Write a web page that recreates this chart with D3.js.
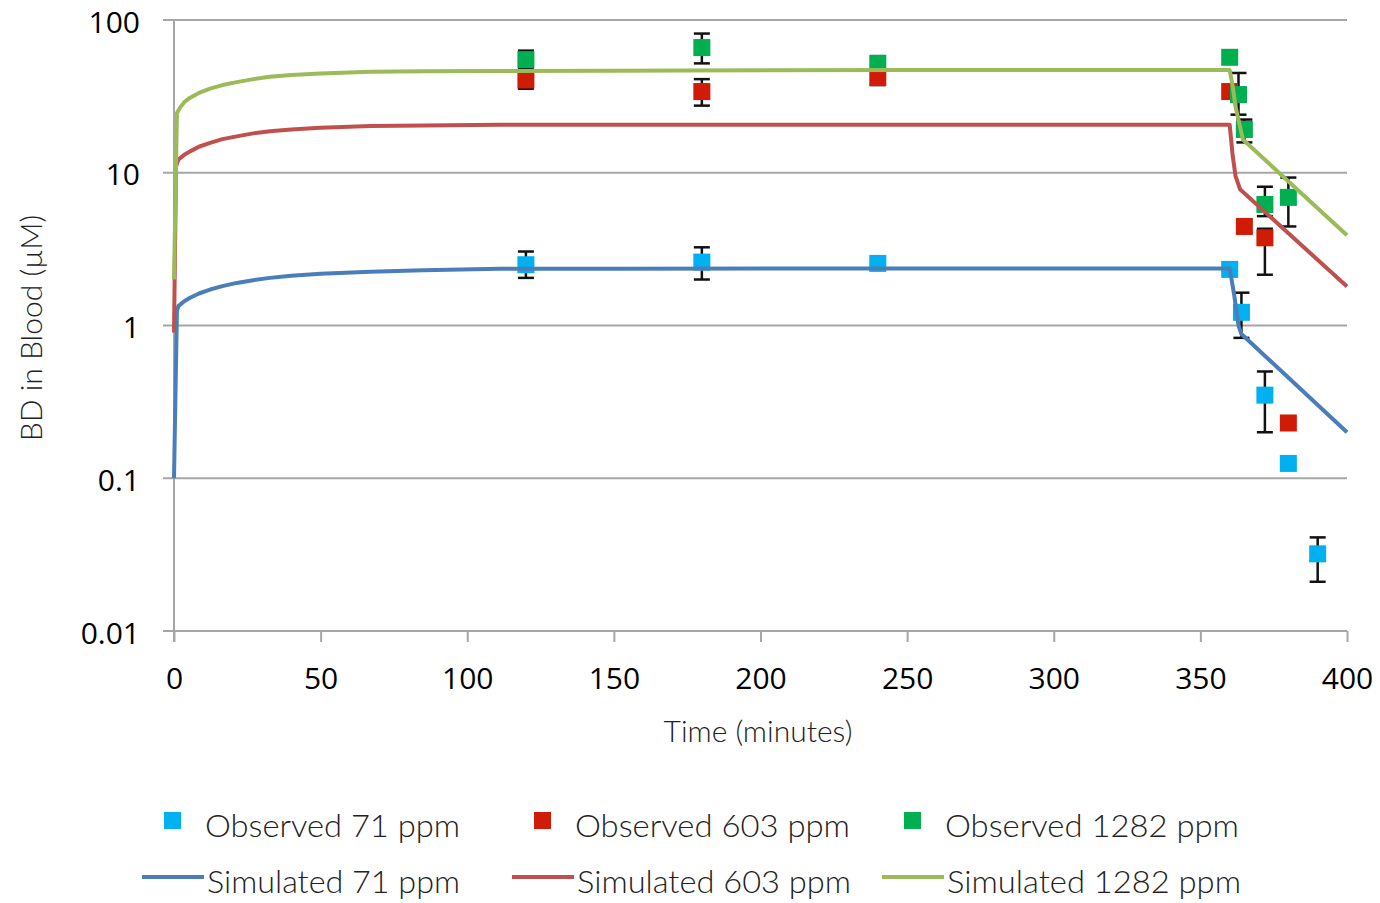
<!DOCTYPE html>
<html>
<head>
<meta charset="utf-8">
<script src="https://cdn.jsdelivr.net/npm/d3@7"></script>
<style>
  body { margin: 0; background: #fff; }
  svg { display: block; }
</style>
</head>
<body>
<script>
// simulated curves (time in minutes, BD in µM)
const simTime71 = [0, 1, 1.5, 3.5, 5.5, 8.5, 12.3, 16.5, 21.4, 27, 32.7, 40, 50, 67, 85, 111, 150, 200, 250, 300, 360, 361.5, 363, 364, 400];
const sim71 = [0.1, 1.25, 1.34, 1.44, 1.52, 1.62, 1.72, 1.81, 1.9, 1.98, 2.05, 2.12, 2.18, 2.25, 2.3, 2.35, 2.35, 2.36, 2.36, 2.36, 2.36, 1.6, 1.0, 0.88, 0.2];
const simTime603 = [0, 0.7, 1.5, 3.5, 5.5, 8.5, 12.3, 16.5, 21.4, 27, 32.7, 40, 50, 67, 85, 111, 150, 200, 250, 300, 360, 361, 362, 363.5, 400];
const sim603 = [0.9, 11, 12.2, 13.1, 13.8, 14.8, 15.7, 16.6, 17.3, 18.1, 18.7, 19.2, 19.7, 20.2, 20.4, 20.6, 20.6, 20.6, 20.6, 20.6, 20.6, 13, 9.5, 7.8, 1.8];
const simTime1282 = [0, 1, 2, 3.5, 5.5, 8.5, 12.3, 16.5, 21.4, 27, 32.7, 40, 50, 67, 85, 111, 150, 200, 250, 300, 360, 361, 362, 364.5, 400];
const sim1282 = [2, 24.5, 26.6, 29, 31, 33.3, 35.5, 37.5, 39.2, 41, 42.5, 43.7, 44.7, 45.8, 46.1, 46.3, 46.6, 46.8, 47, 47, 47, 37, 27, 16.5, 3.9];

// observed points with error bar ends (null = no bar)
const obsTime71 = [120, 180, 240, 360, 364, 372, 380, 390];
const obs71 = [2.5, 2.6, 2.55, 2.33, 1.22, 0.35, 0.125, 0.032];
const lo71 = [2.05, 2.0, null, null, 0.83, 0.2, null, 0.021];
const hi71 = [3.05, 3.25, null, null, 1.64, 0.5, null, 0.041];

const obsTime603 = [120, 180, 240, 360, 365, 372, 380];
const obs603 = [40.5, 34, 42, 34, 4.45, 3.75, 0.23];
const lo603 = [35.5, 27.5, 37.5, null, null, 2.15, null];
const hi603 = [46, 41, 47, null, null, 4.3, null];

const obsTime1282 = [120, 180, 240, 360, 363, 365, 372, 380];
const obs1282 = [55, 66, 52, 57, 32.5, 19.2, 6.2, 6.9];
const lo1282 = [48, 52, 46, null, 24, 15.8, 5.2, 4.45];
const hi1282 = [63, 81.5, 58, null, 45, 22.3, 8.1, 9.3];

const xTicks = [0, 50, 100, 150, 200, 250, 300, 350, 400];
const yTicks = [0.01, 0.1, 1, 10, 100];
const yTickLabels = ["0.01", "0.1", "1", "10", "100"];

const series = [
  {name: "71 ppm", obsColor: "#00b0f0", lineColor: "#4a7ebb", obsLen: 255, simLen: 253,
   simT: simTime71, simV: sim71, obsT: obsTime71, obsV: obs71, lo: lo71, hi: hi71},
  {name: "603 ppm", obsColor: "#d01c06", lineColor: "#c0504d", obsLen: 275, simLen: 274,
   simT: simTime603, simV: sim603, obsT: obsTime603, obsV: obs603, lo: lo603, hi: hi603},
  {name: "1282 ppm", obsColor: "#00b050", lineColor: "#9bbb59", obsLen: 294, simLen: 294,
   simT: simTime1282, simV: sim1282, obsT: obsTime1282, obsV: obs1282, lo: lo1282, hi: hi1282}
];

const W = 1380, H = 903;
const svg = d3.select("body").append("svg").attr("width", W).attr("height", H);

const x = d3.scaleLinear().domain([0, 400]).range([174, 1347]);
const y = d3.scaleLog().domain([0.01, 100]).range([631, 20]);

const gridColor = "#a6a6a6";
const tickFont = "'Open Sans', 'Liberation Sans', sans-serif";
const titleFont = "Lato, 'Noto Sans', sans-serif";

// horizontal gridlines + y ticks
svg.append("g").selectAll("line").data(yTicks).join("line")
  .attr("x1", 163).attr("x2", x(400))
  .attr("y1", d => y(d)).attr("y2", d => y(d))
  .attr("stroke", gridColor).attr("stroke-width", 2);

// y axis line
svg.append("line")
  .attr("x1", x(0)).attr("x2", x(0)).attr("y1", y(100)).attr("y2", 642)
  .attr("stroke", gridColor).attr("stroke-width", 2);

// x axis ticks
const xAxis = d3.axisBottom(x).tickValues(xTicks).tickSize(11).tickSizeOuter(0).tickPadding(26);
const gx = svg.append("g").attr("transform", `translate(0,${y(0.01)})`).call(xAxis);
gx.select(".domain").remove();
gx.selectAll(".tick line").attr("stroke", gridColor).attr("stroke-width", 2);
gx.selectAll(".tick text")
  .attr("font-family", tickFont).attr("font-size", 30).attr("fill", "#000");

// y tick labels
svg.append("g").selectAll("text").data(yTicks).join("text")
  .attr("x", 140).attr("y", d => y(d) + 2).attr("dy", "0.35em")
  .attr("text-anchor", "end")
  .attr("font-family", tickFont).attr("font-size", 30).attr("fill", "#000")
  .text((d, i) => yTickLabels[i]);

// axis titles
svg.append("text")
  .attr("x", 758).attr("y", 742).attr("text-anchor", "middle")
  .attr("font-family", titleFont).attr("font-weight", 300).attr("font-size", 30).attr("fill", "#222")
  .text("Time (minutes)");
svg.append("text")
  .attr("transform", "translate(42,328) rotate(-90)").attr("text-anchor", "middle")
  .attr("font-family", titleFont).attr("font-weight", 300).attr("font-size", 30).attr("fill", "#222")
  .text("BD in Blood (µM)");

const plot = svg.append("g");
const ms = 17;

// error bars
series.forEach(s => {
  const bars = s.obsT.map((t, i) => ({t, lo: s.lo[i], hi: s.hi[i]})).filter(d => d.lo != null);
  const g = plot.append("g").attr("stroke", "#111").attr("stroke-width", 2.5);
  g.selectAll(".v").data(bars).join("line")
    .attr("x1", d => x(d.t)).attr("x2", d => x(d.t))
    .attr("y1", d => y(d.lo)).attr("y2", d => y(d.hi));
  g.selectAll(".lo").data(bars).join("line")
    .attr("x1", d => x(d.t) - 8).attr("x2", d => x(d.t) + 8)
    .attr("y1", d => y(d.lo)).attr("y2", d => y(d.lo));
  g.selectAll(".hi").data(bars).join("line")
    .attr("x1", d => x(d.t) - 8).attr("x2", d => x(d.t) + 8)
    .attr("y1", d => y(d.hi)).attr("y2", d => y(d.hi));
});

// observed markers
series.forEach(s => {
  plot.append("g").selectAll("rect").data(s.obsT.map((t, i) => [t, s.obsV[i]])).join("rect")
    .attr("x", d => x(d[0]) - ms / 2).attr("y", d => y(d[1]) - ms / 2)
    .attr("width", ms).attr("height", ms).attr("fill", s.obsColor);
});

// simulated lines
const line = d3.line().x(d => x(d[0])).y(d => y(d[1]));
series.forEach(s => {
  plot.append("path")
    .datum(s.simT.map((t, i) => [t, s.simV[i]]))
    .attr("d", line).attr("fill", "none")
    .attr("stroke", s.lineColor).attr("stroke-width", 4).attr("stroke-linejoin", "round");
});

// legend
const legX = [142, 512, 882];
const leg = svg.append("g");
series.forEach((s, i) => {
  const lx = legX[i];
  leg.append("rect").attr("x", lx + 22).attr("y", 812).attr("width", 17).attr("height", 17).attr("fill", s.obsColor);
  leg.append("text").attr("x", lx + 63).attr("y", 837)
    .attr("font-family", titleFont).attr("font-weight", 300).attr("font-size", 32).attr("fill", "#222")
    .attr("textLength", s.obsLen).attr("lengthAdjust", "spacingAndGlyphs")
    .text("Observed " + s.name);
  leg.append("line").attr("x1", lx).attr("x2", lx + 62).attr("y1", 877).attr("y2", 877)
    .attr("stroke", s.lineColor).attr("stroke-width", 4);
  leg.append("text").attr("x", lx + 65).attr("y", 893)
    .attr("font-family", titleFont).attr("font-weight", 300).attr("font-size", 32).attr("fill", "#222")
    .attr("textLength", s.simLen).attr("lengthAdjust", "spacingAndGlyphs")
    .text("Simulated " + s.name);
});
</script>
</body>
</html>
